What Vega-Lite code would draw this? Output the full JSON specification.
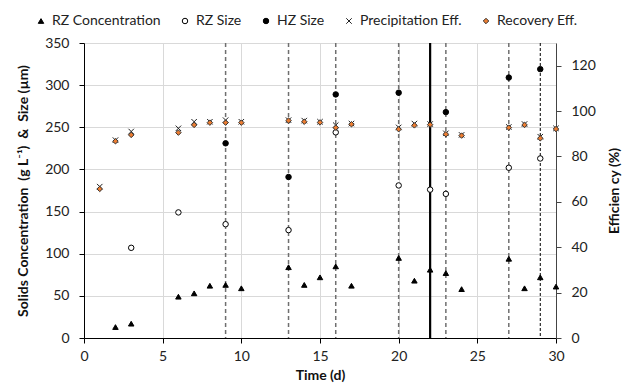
{
  "$schema": "https://vega.github.io/schema/vega-lite/v6.json",
  "width": 472,
  "height": 295,
  "autosize": {"type": "none"},
  "padding": {"left": 84, "top": 43, "right": 79, "bottom": 54},
  "background": "white",
  "config": {
    "font": "Lato",
    "view": {"stroke": null},
    "axis": {"labelFont": "Lato", "labelFontSize": 14, "labelColor": "#222", "titleFont": "Lato", "titleFontSize": 14, "titleFontWeight": "bold", "titleColor": "#111"},
    "legend": {"labelFont": "Lato", "labelFontSize": 14, "labelColor": "#222", "padding": 0}
  },
  "datasets": {
    "left": [
      {"t": 2, "series": "RZ Concentration", "value": 13},
      {"t": 3, "series": "RZ Concentration", "value": 17},
      {"t": 6, "series": "RZ Concentration", "value": 49},
      {"t": 7, "series": "RZ Concentration", "value": 53},
      {"t": 8, "series": "RZ Concentration", "value": 62},
      {"t": 9, "series": "RZ Concentration", "value": 63},
      {"t": 10, "series": "RZ Concentration", "value": 59},
      {"t": 13, "series": "RZ Concentration", "value": 84},
      {"t": 14, "series": "RZ Concentration", "value": 63},
      {"t": 15, "series": "RZ Concentration", "value": 72},
      {"t": 16, "series": "RZ Concentration", "value": 85},
      {"t": 17, "series": "RZ Concentration", "value": 62},
      {"t": 20, "series": "RZ Concentration", "value": 95},
      {"t": 21, "series": "RZ Concentration", "value": 68},
      {"t": 22, "series": "RZ Concentration", "value": 81},
      {"t": 23, "series": "RZ Concentration", "value": 77},
      {"t": 24, "series": "RZ Concentration", "value": 58},
      {"t": 27, "series": "RZ Concentration", "value": 94},
      {"t": 28, "series": "RZ Concentration", "value": 59},
      {"t": 29, "series": "RZ Concentration", "value": 72},
      {"t": 30, "series": "RZ Concentration", "value": 61},
      {"t": 3, "series": "RZ Size", "value": 107},
      {"t": 6, "series": "RZ Size", "value": 149},
      {"t": 9, "series": "RZ Size", "value": 135},
      {"t": 13, "series": "RZ Size", "value": 128},
      {"t": 16, "series": "RZ Size", "value": 244},
      {"t": 20, "series": "RZ Size", "value": 181},
      {"t": 22, "series": "RZ Size", "value": 176},
      {"t": 23, "series": "RZ Size", "value": 171},
      {"t": 27, "series": "RZ Size", "value": 202},
      {"t": 29, "series": "RZ Size", "value": 213},
      {"t": 9, "series": "HZ Size", "value": 231},
      {"t": 13, "series": "HZ Size", "value": 191},
      {"t": 16, "series": "HZ Size", "value": 289},
      {"t": 20, "series": "HZ Size", "value": 291},
      {"t": 23, "series": "HZ Size", "value": 268},
      {"t": 27, "series": "HZ Size", "value": 309},
      {"t": 29, "series": "HZ Size", "value": 319}
    ],
    "right": [
      {"t": 1, "series": "Precipitation Eff.", "value": 66.7},
      {"t": 2, "series": "Precipitation Eff.", "value": 87.2},
      {"t": 3, "series": "Precipitation Eff.", "value": 91},
      {"t": 6, "series": "Precipitation Eff.", "value": 92.4},
      {"t": 7, "series": "Precipitation Eff.", "value": 95.3},
      {"t": 8, "series": "Precipitation Eff.", "value": 95.3},
      {"t": 9, "series": "Precipitation Eff.", "value": 96},
      {"t": 10, "series": "Precipitation Eff.", "value": 95.3},
      {"t": 13, "series": "Precipitation Eff.", "value": 96},
      {"t": 14, "series": "Precipitation Eff.", "value": 95.8},
      {"t": 15, "series": "Precipitation Eff.", "value": 95.3},
      {"t": 16, "series": "Precipitation Eff.", "value": 93.8},
      {"t": 17, "series": "Precipitation Eff.", "value": 94.5},
      {"t": 20, "series": "Precipitation Eff.", "value": 92.8},
      {"t": 21, "series": "Precipitation Eff.", "value": 94.5},
      {"t": 22, "series": "Precipitation Eff.", "value": 94.3},
      {"t": 23, "series": "Precipitation Eff.", "value": 90.2},
      {"t": 24, "series": "Precipitation Eff.", "value": 89.5},
      {"t": 27, "series": "Precipitation Eff.", "value": 93},
      {"t": 28, "series": "Precipitation Eff.", "value": 94.3},
      {"t": 29, "series": "Precipitation Eff.", "value": 88.7},
      {"t": 30, "series": "Precipitation Eff.", "value": 92.4},
      {"t": 1, "series": "Recovery Eff.", "value": 65.7},
      {"t": 2, "series": "Recovery Eff.", "value": 86.7},
      {"t": 3, "series": "Recovery Eff.", "value": 89.5},
      {"t": 6, "series": "Recovery Eff.", "value": 90.5},
      {"t": 7, "series": "Recovery Eff.", "value": 93.9},
      {"t": 8, "series": "Recovery Eff.", "value": 94.9},
      {"t": 9, "series": "Recovery Eff.", "value": 94.9},
      {"t": 10, "series": "Recovery Eff.", "value": 94.9},
      {"t": 13, "series": "Recovery Eff.", "value": 95.8},
      {"t": 14, "series": "Recovery Eff.", "value": 95.3},
      {"t": 15, "series": "Recovery Eff.", "value": 95},
      {"t": 16, "series": "Recovery Eff.", "value": 92.7},
      {"t": 17, "series": "Recovery Eff.", "value": 94.2},
      {"t": 20, "series": "Recovery Eff.", "value": 92},
      {"t": 21, "series": "Recovery Eff.", "value": 93.7},
      {"t": 22, "series": "Recovery Eff.", "value": 94},
      {"t": 23, "series": "Recovery Eff.", "value": 89.8},
      {"t": 24, "series": "Recovery Eff.", "value": 89.2},
      {"t": 27, "series": "Recovery Eff.", "value": 92.7},
      {"t": 28, "series": "Recovery Eff.", "value": 93.9},
      {"t": 29, "series": "Recovery Eff.", "value": 88},
      {"t": 30, "series": "Recovery Eff.", "value": 92.1}
    ]
  },
  "layer": [
    {
      "data": {"values": [{"t": 9}, {"t": 13}, {"t": 16}, {"t": 20}, {"t": 23}, {"t": 27}]},
      "mark": {"type": "rule", "color": "#6f6f6f", "strokeWidth": 1.5, "strokeDash": [4, 3]},
      "encoding": {
        "x": {"field": "t", "type": "quantitative", "scale": {"domain": [0, 30], "nice": false}, "axis": null}
      }
    },
    {
      "data": {"values": [{"t": 22}]},
      "mark": {"type": "rule", "color": "#000", "strokeWidth": 2.2},
      "encoding": {"x": {"field": "t", "type": "quantitative", "axis": null}}
    },
    {
      "data": {"values": [{"t": 29}]},
      "mark": {"type": "rule", "color": "#000", "strokeWidth": 1, "strokeDash": [3, 2]},
      "encoding": {"x": {"field": "t", "type": "quantitative", "axis": null}}
    },
    {
      "data": {"name": "left"},
      "mark": {"type": "point", "filled": true, "opacity": 1, "strokeWidth": 1},
      "encoding": {
        "x": {"field": "t", "type": "quantitative", "scale": {"domain": [0, 30], "nice": false},
          "axis": {"orient": "bottom", "values": [0,5,10,15,20,25,30], "grid": true, "gridColor": "#d9d9d9", "gridWidth": 1, "domainColor": "#000", "tickColor": "#000", "tickSize": 5, "labelPadding": 6, "labelFlush": false, "title": "Time (d)", "titlePadding": 5}},
        "y": {"field": "value", "type": "quantitative", "scale": {"domain": [0, 350], "nice": false},
          "axis": {"orient": "left", "values": [0,50,100,150,200,250,300,350], "grid": true, "gridColor": "#d9d9d9", "gridWidth": 1, "domainColor": "#000", "tickColor": "#000", "tickSize": 5, "labelPadding": 10, "title": "Solids Concentration\u00a0 (g L⁻¹)\u00a0 &\u00a0 Size (µm)", "titlePadding": 14}},
        "fill": {"field": "series", "type": "nominal",
          "scale": {"domain": ["RZ Concentration", "RZ Size", "HZ Size", "Precipitation Eff.", "Recovery Eff."], "range": ["#000000", "#ffffff", "#000000", "transparent", "#ED7D31"]},
          "legend": {"title": null, "orient": "none", "legendX": -50, "legendY": -29, "direction": "horizontal", "symbolSize": 30, "labelOffset": 4, "columnPadding": 17, "symbolStrokeWidth": 1}},
        "stroke": {"field": "series", "type": "nominal",
          "scale": {"domain": ["RZ Concentration", "RZ Size", "HZ Size", "Precipitation Eff.", "Recovery Eff."], "range": ["#000000", "#000000", "#000000", "#222222", "#333333"]},
          "legend": {"title": null, "orient": "none", "legendX": -50, "legendY": -29, "direction": "horizontal", "symbolSize": 30, "labelOffset": 4, "columnPadding": 17, "symbolStrokeWidth": 1}},
        "shape": {"field": "series", "type": "nominal",
          "scale": {"domain": ["RZ Concentration", "RZ Size", "HZ Size", "Precipitation Eff.", "Recovery Eff."], "range": ["triangle-up", "circle", "circle", "M-1,-1L1,1M-1,1L1,-1", "diamond"]},
          "legend": {"title": null, "orient": "none", "legendX": -50, "legendY": -29, "direction": "horizontal", "symbolSize": 30, "labelOffset": 4, "columnPadding": 17, "symbolStrokeWidth": 1}},
        "size": {"field": "series", "type": "ordinal",
          "scale": {"domain": ["Recovery Eff.", "Precipitation Eff.", "HZ Size", "RZ Size", "RZ Concentration"], "range": [30, 30, 65, 65, 48]}, "legend": null}
      }
    },
    {
      "data": {"name": "right"},
      "mark": {"type": "point", "filled": true, "opacity": 1, "strokeWidth": 1},
      "encoding": {
        "x": {"field": "t", "type": "quantitative", "axis": null},
        "y": {"field": "value", "type": "quantitative", "scale": {"domain": [0, 130], "nice": false},
          "axis": {"orient": "right", "values": [0,20,40,60,80,100,120], "grid": false, "domainColor": "#444", "tickColor": "#444", "tickSize": 5, "labelPadding": 10, "title": "Efficien cy (%)", "titleAngle": -90, "titlePadding": 26}},
        "fill": {"field": "series", "type": "nominal"},
        "stroke": {"field": "series", "type": "nominal"},
        "shape": {"field": "series", "type": "nominal"},
        "size": {"field": "series", "type": "ordinal", "legend": null}
      }
    }
  ],
  "resolve": {"scale": {"y": "independent"}, "axis": {"x": "independent"}}
}
